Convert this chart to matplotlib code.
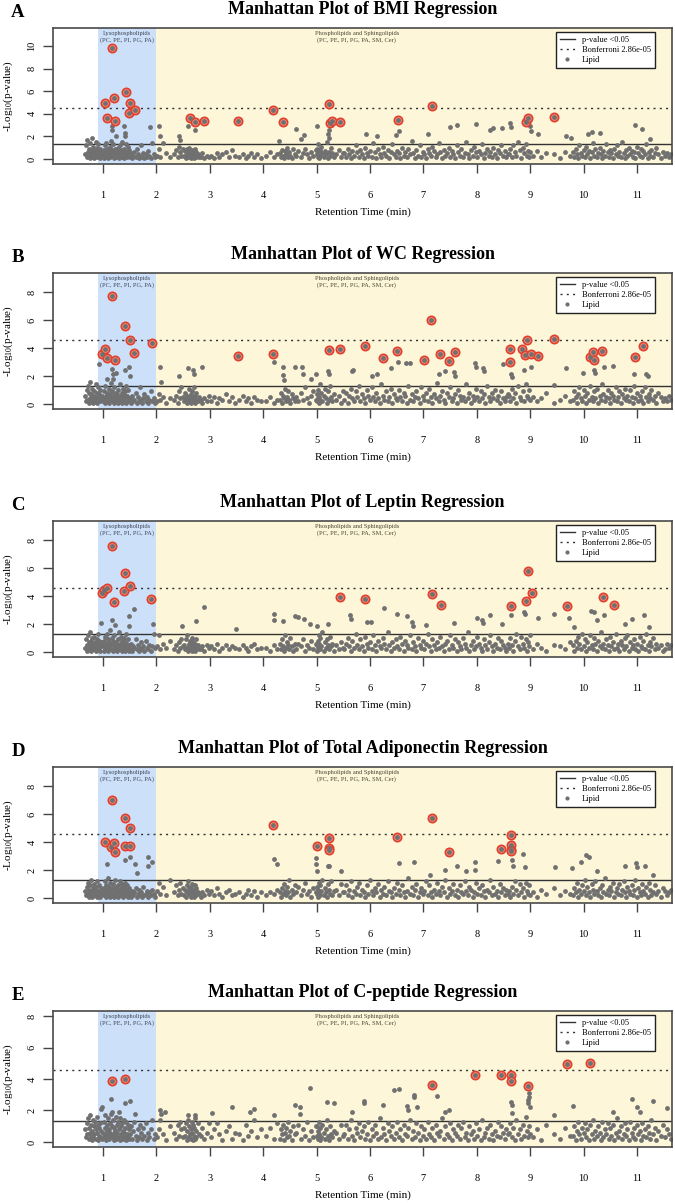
import matplotlib
matplotlib.use("Agg")
import matplotlib.pyplot as plt
import matplotlib.transforms as mtransforms
from matplotlib.lines import Line2D
import numpy as np

plt.rcParams['font.family'] = ['Liberation Serif', 'DejaVu Serif']
plt.rcParams['mathtext.fontset'] = 'custom'
plt.rcParams['mathtext.rm'] = 'Liberation Serif'
plt.rcParams['mathtext.it'] = 'Liberation Serif:italic'

# ---------------- data ----------------
# retention times of the lipids (hundredths of a minute), shared by all panels
RT = [
    66, 68, 70, 71, 72, 73, 74, 75, 76, 77, 78, 79, 80, 81, 82, 83, 84, 85, 86, 87, 88, 89, 90, 91, 92, 93, 94, 95, 96, 98,
    100, 101, 102, 103, 104, 105, 106, 107, 108, 109, 110, 111, 112, 113, 114, 115, 116, 117, 118, 119,
    120, 121, 122, 123, 124, 125, 126, 127, 128, 129, 130, 131, 132, 133, 134, 135, 136, 137, 138, 139,
    140, 141, 142, 143, 144, 145, 146, 147, 148, 149,
    151, 153, 155, 157, 159, 161, 163, 165, 167, 169, 171, 173, 175, 177, 180, 182, 185, 187, 190, 192, 195, 198,
    202, 204, 206, 212, 218, 225,
    233, 237, 240, 243, 245, 247, 249,
    251, 253, 255, 257, 258, 260, 261, 262, 263, 264, 265, 266, 267, 268, 269, 270, 271, 272, 273, 274, 275, 277, 279,
    283, 286, 290, 294, 298,
    303, 308, 313, 318, 323, 330, 336, 342, 347,
    355, 362, 367, 372, 377, 382, 388, 395,
    405, 412, 420, 426,
    431, 433, 435, 437, 439, 441, 443, 445, 447, 449, 451, 453, 456, 459,
    462, 466, 470, 474, 478, 482, 486, 490, 494, 498,
    500, 501, 502, 503, 504, 505, 506, 507, 509, 511, 513, 515, 517, 519, 521, 523, 525, 527, 529, 532,
    537, 542, 546, 549,
    552, 555, 558, 561, 564, 567, 570, 573, 576, 579, 582, 585, 588, 591, 594, 597, 600, 603, 606, 609,
    612, 615, 618, 621, 624, 627, 630, 633, 636, 639, 642, 645, 648, 651, 654, 657, 660, 663, 666, 669,
    672, 675, 678, 681, 684, 687, 690, 693, 696, 699, 702, 705, 708, 711, 714, 717, 720, 723, 726, 729,
    732, 735, 738, 741, 744, 747, 750, 753, 756, 759, 762, 765, 768, 771, 774, 777, 780, 783, 786, 789,
    792, 795, 798, 801, 804, 807, 810, 813, 816, 819, 822, 825, 828, 831, 834, 837, 840, 843, 846, 849,
    852, 855, 858,
    861, 863, 865, 868, 871, 874, 877, 880, 883, 886, 889, 892, 894, 896, 898, 900,
    905, 912, 920, 930, 945, 955, 965, 975,
    980, 982, 985, 987, 990, 992, 995, 997, 1000, 1002, 1005, 1007, 1010, 1012, 1015, 1017, 1020, 1022, 1025, 1027,
    1030, 1032, 1035, 1037, 1040, 1042, 1045, 1047, 1050, 1052, 1055, 1057, 1060, 1062, 1065, 1067, 1070, 1072, 1075, 1077,
    1080, 1082, 1085, 1087, 1090, 1092, 1095, 1097, 1100, 1102, 1105, 1107, 1110, 1112, 1115, 1117, 1120, 1122, 1125, 1127,
    1130, 1133, 1136, 1140, 1144, 1148,
    1152, 1156, 1160, 1164,
]

# background -log10(p) per panel (tenths), aligned with RT
BG_BMI = [
    4, 12, 2, 17, 6, 3, 9, 1, 14, 5, 2, 8, 19, 3, 11, 6, 1, 7, 15, 4, 2, 10, 5, 13, 3, 7, 1, 9, 4, 6,
    3, 8, 1, 12, 5, 2, 14, 6, 9, 3, 1, 7, 4, 11, 2, 16, 5, 8, 3, 13, 6, 1, 9, 4, 20, 2, 7, 5, 10, 3,
    1, 6, 12, 4, 8, 2, 15, 5, 3, 9, 1, 7, 4, 13, 6, 2, 11, 3, 5, 8,
    2, 5, 1, 3, 6, 2, 9, 4, 1, 3, 12, 2, 5, 1, 4, 2, 7, 3, 1, 14, 4, 2,
    3, 9, 2, 14, 5, 2,
    4, 8, 2, 11, 6, 3, 9,
    3, 7, 1, 9, 4, 2, 6, 10, 3, 5, 1, 8, 2, 4, 7, 1, 5, 3, 9, 2, 6, 4, 2,
    2, 5, 1, 3, 2,
    3, 1, 5, 2, 4, 6, 2, 8, 3,
    2, 4, 1, 3, 5, 2, 4, 1,
    3, 6, 2, 4,
    5, 2, 8, 3, 1, 7, 4, 10, 2, 6, 3, 1, 9, 4,
    3, 7, 2, 5, 9, 4, 1, 6, 3, 8,
    4, 9, 2, 13, 6, 1, 8, 3, 11, 5, 2, 7, 4, 15, 1, 6, 3, 10, 5, 2,
    4, 8, 2, 5,
    5, 2, 9, 4, 1, 7, 3, 12, 6, 2, 8, 4, 1, 10, 5, 3, 7, 2, 14, 6,
    1, 9, 4, 2, 11, 5, 3, 8, 1, 6, 13, 4, 2, 7, 5, 1, 10, 3, 6, 2,
    9, 4, 16, 5, 1, 8, 3, 12, 2, 6, 4, 1, 9, 5, 3, 11, 7, 2, 4, 14,
    6, 1, 8, 3, 5, 10, 2, 7, 4, 1, 12, 6, 3, 9, 2, 5, 15, 4, 1, 8,
    3, 11, 6, 2, 7, 4, 13, 1, 5, 9, 3, 6, 2, 10, 4, 1, 8, 5, 12, 3,
    7, 2, 4,
    4, 9, 2, 12, 6, 3, 15, 8, 1, 10, 5, 13, 3, 7, 2, 6,
    3, 7, 2, 5, 4, 1, 6, 3,
    6, 2, 9, 4, 1, 12, 5, 3, 8, 2, 11, 4, 7, 1, 6, 14, 3, 9, 2, 5,
    10, 4, 1, 7, 3, 13, 6, 2, 8, 5, 1, 9, 4, 12, 3, 6, 2, 15, 5, 1,
    8, 3, 10, 4, 7, 2, 6, 1, 11, 5, 3, 9, 2, 7, 4, 13, 1, 6, 3, 8,
    2, 5, 10, 4, 1, 6,
    3, 5, 2, 4,
]
BG_WC = [
    6, 2, 10, 3, 13, 1, 8, 4, 16, 2, 7, 5, 11, 3, 1, 9, 6, 2, 14, 4, 8, 1, 12, 5, 3, 7, 2, 10, 4, 6,
    2, 9, 4, 1, 13, 6, 3, 8, 18, 2, 5, 11, 1, 7, 4, 15, 3, 9, 2, 6, 12, 1, 5, 8, 3, 22, 4, 7, 1, 10,
    5, 2, 14, 6, 3, 8, 1, 11, 4, 7, 2, 9, 5, 13, 1, 6, 3, 10, 2, 4,
    4, 1, 6, 2, 3, 8, 1, 5, 2, 12, 3, 1, 4, 7, 2, 5, 1, 3, 9, 2, 4, 1,
    2, 7, 3, 5, 1, 4,
    3, 6, 1, 9, 4, 12, 5,
    2, 8, 4, 1, 6, 3, 11, 5, 2, 7, 1, 9, 3, 5, 2, 12, 4, 1, 6, 3, 8, 2, 5,
    3, 1, 4, 2, 6,
    2, 5, 1, 4, 3, 7, 2, 5, 1,
    3, 6, 2, 4, 1, 5, 3, 2,
    2, 5, 1, 3,
    3, 8, 1, 6, 4, 11, 2, 5, 9, 3, 1, 7, 4, 2,
    5, 2, 8, 3, 12, 4, 1, 6, 9, 3,
    2, 7, 4, 10, 1, 5, 14, 3, 8, 2, 6, 11, 4, 1, 9, 3, 13, 5, 2, 7,
    3, 6, 1, 9,
    3, 8, 1, 6, 11, 4, 2, 9, 5, 13, 2, 7, 4, 1, 10, 6, 3, 12, 5, 2,
    8, 4, 1, 14, 6, 3, 9, 2, 5, 11, 1, 7, 4, 3, 10, 5, 2, 8, 6, 1,
    13, 3, 7, 2, 5, 9, 4, 1, 12, 6, 3, 8, 2, 11, 5, 1, 7, 4, 15, 2,
    6, 9, 3, 1, 8, 5, 12, 2, 4, 7, 1, 10, 6, 3, 5, 2, 14, 4, 8, 1,
    6, 3, 11, 5, 2, 9, 4, 7, 1, 13, 5, 2, 8, 4, 10, 3, 6, 1, 9, 4,
    2, 5, 7,
    6, 2, 11, 4, 8, 1, 13, 5, 3, 9, 2, 14, 6, 4, 10, 3,
    5, 2, 4, 8, 1, 3, 6, 2,
    3, 9, 5, 1, 7, 12, 4, 2, 10, 6, 1, 8, 3, 13, 5, 2, 9, 4, 11, 1,
    6, 3, 14, 7, 2, 5, 10, 4, 1, 8, 6, 3, 12, 2, 5, 9, 1, 7, 4, 11,
    3, 6, 2, 10, 5, 1, 13, 4, 8, 2, 6, 3, 9, 1, 12, 5, 2, 7, 4, 10,
    3, 6, 1, 8, 5, 2,
    4, 2, 6, 3,
]
BG_LEP = [
    3, 9, 5, 1, 12, 7, 2, 14, 4, 8, 1, 6, 10, 3, 5, 2, 11, 7, 4, 1, 9, 6, 3, 13, 2, 8, 5, 1, 7, 4,
    5, 1, 8, 3, 11, 6, 2, 13, 4, 9, 1, 7, 3, 16, 5, 2, 10, 6, 1, 8, 4, 12, 3, 19, 2, 7, 5, 1, 9, 4,
    14, 2, 6, 3, 11, 1, 8, 5, 2, 10, 4, 7, 1, 13, 3, 6, 2, 9, 5, 1,
    2, 6, 1, 4, 3, 9, 2, 5, 1, 3, 7, 2, 4, 1, 8, 3, 2, 5, 1, 4, 13, 3,
    4, 12, 2, 6, 3, 8,
    2, 5, 1, 7, 3, 9, 4,
    5, 2, 9, 3, 12, 1, 6, 4, 8, 2, 5, 1, 10, 3, 7, 2, 4, 6, 1, 9, 3, 5, 2,
    2, 4, 1, 5, 3,
    4, 2, 6, 1, 3, 5, 2, 4, 3,
    2, 5, 3, 1, 4, 6, 2, 3,
    3, 1, 5, 2,
    6, 2, 9, 4, 1, 12, 3, 7, 5, 2, 10, 4, 1, 6,
    2, 6, 4, 9, 1, 5, 3, 8, 2, 6,
    5, 1, 8, 3, 12, 6, 2, 10, 4, 14, 1, 7, 3, 9, 5, 2, 11, 4, 6, 1,
    5, 2, 7, 3,
    2, 6, 10, 4, 1, 8, 3, 13, 5, 2, 9, 4, 1, 11, 6, 3, 7, 2, 12, 5,
    1, 8, 4, 3, 10, 6, 2, 14, 5, 1, 7, 3, 9, 4, 2, 11, 6, 1, 8, 5,
    3, 12, 2, 7, 4, 1, 10, 5, 3, 8, 2, 6, 13, 4, 1, 9, 5, 2, 7, 3,
    11, 4, 1, 6, 8, 2, 12, 5, 3, 9, 1, 7, 4, 2, 10, 6, 3, 14, 1, 5,
    8, 2, 4, 11, 6, 3, 1, 9, 5, 2, 7, 12, 4, 1, 6, 3, 10, 2, 8, 5,
    3, 1, 6,
    3, 10, 5, 1, 8, 13, 4, 2, 11, 6, 3, 9, 1, 7, 4, 12,
    2, 6, 3, 1, 5, 4, 2, 7,
    5, 1, 8, 3, 11, 6, 2, 13, 4, 9, 1, 7, 3, 12, 5, 2, 10, 6, 1, 8,
    4, 14, 3, 6, 2, 9, 5, 1, 11, 4, 7, 2, 13, 3, 6, 1, 8, 5, 2, 10,
    4, 12, 1, 7, 3, 5, 9, 2, 6, 1, 11, 4, 3, 8, 2, 13, 5, 1, 7, 4,
    10, 2, 6, 3, 5, 1,
    2, 6, 3, 5,
]
BG_ADIPO = [
    5, 2, 8, 3, 11, 1, 6, 4, 9, 2, 13, 5, 1, 7, 3, 10, 4, 2, 8, 6, 1, 12, 3, 5, 2, 9, 4, 1, 7, 3,
    4, 7, 2, 12, 5, 1, 9, 3, 6, 14, 2, 8, 4, 1, 11, 5, 3, 7, 2, 10, 6, 1, 13, 4, 8, 2, 5, 3, 9, 1,
    6, 12, 4, 2, 7, 3, 10, 5, 1, 8, 4, 2, 11, 6, 3, 9, 1, 5, 7, 2,
    3, 1, 5, 2, 4, 7, 1, 3, 6, 2, 4, 1, 8, 2, 3, 5, 1, 4, 2, 6, 3, 1,
    5, 11, 3, 8, 2, 13,
    4, 9, 2, 6, 11, 3, 7,
    2, 6, 1, 9, 4, 12, 3, 7, 5, 1, 8, 2, 10, 4, 6, 3, 1, 9, 5, 2, 7, 4, 3,
    1, 4, 2, 6, 3,
    5, 2, 7, 3, 1, 4, 6, 2, 3,
    4, 1, 3, 6, 2, 5, 1, 4,
    2, 4, 3, 6,
    4, 1, 7, 3, 10, 5, 2, 8, 4, 13, 1, 6, 3, 9,
    4, 8, 2, 6, 11, 3, 5, 1, 7, 4,
    3, 8, 1, 6, 11, 4, 2, 9, 5, 13, 2, 7, 4, 1, 10, 6, 3, 12, 2, 5,
    6, 2, 10, 4,
    4, 9, 2, 6, 12, 1, 5, 3, 8, 11, 2, 6, 4, 1, 9, 3, 13, 5, 2, 7,
    4, 10, 1, 6, 3, 8, 2, 12, 5, 4, 1, 7, 3, 11, 6, 2, 9, 4, 1, 5,
    14, 3, 8, 2, 6, 10, 1, 4, 7, 3, 5, 12, 2, 9, 4, 1, 6, 3, 11, 5,
    2, 8, 4, 13, 1, 7, 3, 5, 10, 2, 6, 1, 9, 4, 3, 12, 5, 2, 8, 6,
    1, 4, 11, 3, 7, 2, 9, 5, 1, 6, 4, 13, 2, 8, 3, 5, 1, 10, 4, 7,
    2, 6, 3,
    5, 1, 8, 3, 12, 6, 2, 10, 4, 7, 1, 11, 5, 3, 9, 2,
    4, 1, 6, 3, 7, 2, 5, 3,
    2, 7, 4, 11, 1, 6, 3, 9, 5, 13, 2, 8, 4, 1, 10, 6, 3, 12, 5, 2,
    7, 1, 9, 4, 14, 3, 6, 2, 8, 5, 11, 1, 4, 7, 3, 10, 2, 6, 12, 4,
    1, 8, 5, 3, 9, 2, 6, 13, 1, 7, 4, 2, 10, 5, 3, 8, 1, 11, 6, 2,
    4, 9, 3, 5, 1, 7,
    5, 2, 4, 6,
]
BG_CPEP = [
    8, 3, 12, 5, 15, 2, 9, 6, 17, 4, 11, 1, 7, 14, 3, 10, 5, 13, 2, 8, 16, 6, 1, 11, 4, 9, 3, 12, 7, 2,
    6, 13, 3, 9, 17, 5, 1, 11, 7, 15, 4, 8, 2, 12, 6, 18, 3, 10, 5, 14, 1, 9, 7, 4, 16, 2, 11, 6, 13, 3,
    8, 1, 15, 5, 10, 4, 12, 2, 7, 14, 6, 3, 9, 1, 13, 5, 11, 4, 8, 2,
    5, 10, 2, 7, 13, 4, 1, 8, 3, 11, 6, 2, 9, 4, 12, 1, 6, 3, 8, 14, 2, 5,
    3, 8, 14, 5, 1, 10,
    6, 2, 11, 4, 13, 8, 3,
    9, 4, 12, 1, 7, 14, 3, 10, 5, 2, 8, 13, 6, 1, 11, 4, 9, 2, 15, 7, 3, 12, 5,
    4, 9, 2, 6, 12,
    3, 8, 12, 5, 1, 7, 10, 2, 6,
    5, 1, 11, 4, 7, 14, 3, 8,
    4, 9, 2, 12,
    2, 8, 5, 11, 1, 6, 9, 3, 13, 4, 7, 1, 10, 5,
    6, 11, 2, 8, 4, 13, 1, 7, 3, 10,
    4, 10, 2, 7, 13, 5, 1, 9, 3, 11, 6, 2, 8, 14, 4, 1, 10, 5, 3, 7,
    6, 2, 11, 4,
    5, 11, 2, 8, 14, 4, 1, 9, 6, 12, 3, 7, 10, 2, 5, 13, 1, 8, 4, 11,
    6, 2, 15, 3, 9, 5, 1, 12, 7, 4, 10, 2, 6, 13, 3, 8, 1, 11, 5, 4,
    9, 14, 2, 7, 3, 12, 6, 1, 10, 4, 8, 2, 13, 5, 3, 9, 1, 11, 6, 4,
    7, 15, 2, 10, 5, 3, 12, 1, 8, 6, 4, 11, 2, 9, 13, 3, 6, 1, 10, 5,
    7, 2, 12, 4, 8, 1, 14, 3, 6, 9, 2, 11, 5, 1, 7, 4, 13, 3, 10, 6,
    2, 8, 5,
    6, 12, 3, 9, 1, 14, 5, 8, 2, 11, 4, 16, 7, 3, 10, 5,
    3, 8, 1, 11, 5, 2, 9, 4,
    4, 10, 1, 7, 13, 5, 2, 9, 6, 12, 3, 8, 1, 11, 5, 14, 2, 7, 4, 10,
    6, 1, 13, 3, 8, 5, 12, 2, 9, 4, 11, 1, 6, 15, 3, 7, 10, 2, 5, 12,
    4, 8, 1, 13, 6, 3, 9, 2, 11, 5, 7, 1, 12, 4, 8, 3, 10, 6, 2, 14,
    5, 9, 1, 7, 4, 11,
    3, 8, 5, 2,
]

# higher (not significant) lipids per panel
HI_RT_BMI = [1.16, 1.17, 1.40, 1.41, 1.42, 1.88, 2.05, 2.06, 2.43, 2.44, 2.60, 2.72, 4.30, 4.62, 4.70,
             4.76, 5.00, 5.22, 5.23, 5.24, 5.92, 6.13, 6.48, 6.55, 7.09, 7.49, 7.62, 7.99, 8.25, 8.31,
             8.47, 8.63, 8.64, 9.00, 9.02, 9.15, 9.67, 9.77, 10.08, 10.15, 10.30, 10.97, 11.10, 11.25]
HI_Y_BMI = [2.9, 2.6, 2.9, 2.3, 2.0, 2.85, 2.9, 2.0, 2.0, 1.7, 2.95, 2.6, 1.6, 2.7, 1.8,
            2.1, 2.9, 2.2, 2.55, 1.9, 2.2, 2.0, 2.1, 2.5, 2.25, 2.8, 3.0, 3.1, 2.6, 2.75,
            2.75, 3.2, 2.85, 2.9, 2.5, 2.2, 2.0, 1.9, 2.2, 2.4, 2.3, 3.0, 2.7, 1.8]
HI_RT_WC = [0.93, 1.17, 1.18, 1.19, 1.42, 1.49, 1.50, 2.07, 2.08, 2.43, 2.60, 2.69, 2.70, 2.85, 4.20,
            4.37, 4.38, 4.39, 4.60, 4.73, 4.74, 4.90, 4.98, 5.22, 5.23, 5.66, 5.68, 6.04, 6.13, 6.40,
            6.53, 6.68, 6.75, 7.30, 7.40, 7.58, 7.60, 7.97, 7.98, 8.12, 8.13, 8.49, 8.64, 8.65, 8.89,
            9.02, 9.45, 9.67, 9.99, 10.20, 10.22, 10.38, 10.55, 10.94, 11.16, 11.20]
HI_Y_WC = [2.86, 2.5, 2.14, 1.8, 2.4, 2.62, 2.0, 2.62, 1.55, 2.0, 2.55, 2.43, 2.14, 2.67, 2.98,
           2.67, 2.07, 1.74, 2.67, 2.62, 2.14, 1.8, 2.14, 2.38, 2.14, 2.38, 2.45, 2.0, 2.14, 2.6,
           2.98, 2.93, 2.93, 2.14, 2.33, 2.26, 2.0, 2.9, 2.67, 2.55, 2.38, 2.86, 2.14, 1.9, 2.45,
           2.62, 1.38, 2.55, 2.2, 2.4, 2.2, 2.62, 2.69, 2.14, 2.14, 1.98]
HI_RT_LEP = [0.97, 1.17, 1.48, 1.49, 1.58, 1.93, 2.48, 2.74, 2.89, 3.50, 4.20, 4.21, 4.37, 4.60, 4.66,
             4.76, 4.88, 5.00, 5.22, 5.62, 5.64, 5.95, 6.02, 6.26, 6.50, 6.69, 6.78, 6.80, 7.05, 7.58,
             8.00, 8.09, 8.12, 8.25, 8.47, 8.64, 8.89, 8.90, 9.15, 9.45, 9.73, 9.82, 10.13, 10.19, 10.25,
             10.38, 10.78, 10.90, 11.13, 11.22]
HI_Y_LEP = [2.1, 2.27, 2.6, 1.84, 3.1, 2.0, 1.84, 2.22, 3.22, 1.67, 2.74, 2.31, 2.22, 2.55, 2.5,
            2.39, 2.0, 1.84, 2.0, 2.67, 2.39, 2.15, 2.15, 3.15, 2.74, 2.55, 2.15, 1.84, 1.9, 2.07,
            2.46, 2.3, 2.07, 2.62, 2.0, 2.62, 2.86, 2.7, 2.46, 2.7, 2.43, 1.8, 2.94, 2.86, 2.3,
            2.62, 2.0, 2.39, 2.62, 1.8]
HI_RT_ADIPO = [1.08, 1.42, 1.50, 1.60, 1.63, 1.84, 1.85, 1.92, 4.20, 4.25, 4.98, 4.99, 5.00, 5.22, 5.24,
               5.45, 6.54, 6.82, 7.12, 7.40, 7.62, 7.80, 7.96, 7.97, 8.40, 8.66, 8.67, 8.87, 8.90, 9.47,
               9.78, 9.96, 10.05, 10.11, 10.25, 10.78, 10.98, 11.00, 11.15, 11.30]
HI_Y_ADIPO = [2.45, 2.7, 2.95, 2.45, 1.75, 2.9, 2.3, 2.55, 2.75, 2.4, 2.85, 2.4, 1.9, 2.26, 2.3,
              1.9, 2.5, 2.55, 1.66, 2.0, 2.3, 1.9, 2.56, 1.97, 2.66, 2.73, 2.3, 3.16, 2.2, 2.2,
              2.14, 2.56, 3.04, 2.92, 1.9, 2.3, 2.5, 2.2, 2.26, 1.66]
HI_RT_CPEP = [0.97, 0.99, 1.15, 1.17, 1.30, 1.42, 1.50, 1.60, 2.07, 2.09, 2.17, 2.60, 2.72, 3.05, 3.42,
              3.76, 3.82, 4.20, 4.60, 4.68, 4.69, 4.87, 5.20, 5.32, 5.66, 5.88, 5.89, 6.25, 6.45, 6.54,
              6.69, 6.72, 6.82, 6.83, 6.88, 7.26, 7.40, 7.47, 8.64, 8.65, 8.66, 8.97, 8.98, 8.96, 8.95,
              8.99, 9.45, 9.80, 10.55, 10.91, 11.00, 11.05, 11.30, 11.57]
HI_Y_CPEP = [2.1, 2.2, 2.76, 1.92, 1.9, 2.45, 2.6, 1.8, 2.0, 1.75, 1.92, 1.7, 1.7, 1.85, 2.2,
             1.9, 2.07, 1.7, 2.38, 2.24, 1.75, 3.46, 2.53, 2.49, 1.9, 2.6, 2.5, 2.34, 3.29, 3.38,
             2.3, 2.05, 2.97, 2.83, 2.2, 2.9, 1.9, 2.05, 2.55, 2.34, 1.86, 3.08, 2.83, 2.66, 2.45,
             2.24, 1.7, 2.3, 1.9, 2.7, 2.24, 1.9, 2.62, 2.17]

# significant lipids (circled in red) per panel
SIG_RT_BMI = [1.03, 1.08, 1.175, 1.21, 1.23, 1.43, 1.49, 1.51, 1.60, 2.63, 2.72, 2.89, 3.52, 4.18, 4.37,
              5.24, 5.26, 5.28, 5.43, 6.52, 7.17, 8.93, 8.96, 9.45]
SIG_Y_BMI = [4.95, 3.6, 9.85, 5.4, 3.35, 5.9, 4.1, 4.95, 4.35, 3.65, 3.3, 3.35, 3.35, 4.3, 3.3,
             4.85, 3.2, 3.35, 3.3, 3.5, 4.7, 3.3, 3.65, 3.7]
SIG_RT_WC = [0.98, 1.04, 1.08, 1.17, 1.22, 1.42, 1.51, 1.59, 1.91, 3.53, 4.19, 5.24, 5.43, 5.90, 6.25,
             6.50, 7.02, 7.15, 7.32, 7.47, 7.60, 8.62, 8.63, 8.85, 8.90, 8.94, 9.02, 9.15, 9.44, 10.12,
             10.18, 10.19, 10.35, 10.96, 11.12]
SIG_Y_WC = [3.57, 3.95, 3.26, 7.74, 3.14, 5.55, 4.57, 3.64, 4.38, 3.4, 3.57, 3.83, 3.9, 4.12, 3.26,
            3.76, 3.17, 6.02, 3.6, 3.05, 3.74, 3.9, 3.02, 3.93, 3.52, 4.57, 3.57, 3.4, 4.67, 3.36,
            3.74, 3.17, 3.81, 3.36, 4.14]
SIG_RT_LEP = [0.98, 1.02, 1.07, 1.17, 1.21, 1.40, 1.42, 1.51, 1.90, 5.43, 5.91, 7.17, 7.33, 8.64, 8.92,
              8.96, 9.04, 9.69, 10.37, 10.56]
SIG_Y_LEP = [4.22, 4.42, 4.6, 7.59, 3.6, 4.34, 5.66, 4.75, 3.77, 3.9, 3.77, 4.15, 3.34, 3.29, 3.65,
             5.82, 4.22, 3.32, 3.96, 3.37]
SIG_RT_ADIPO = [1.03, 1.15, 1.17, 1.21, 1.22, 1.42, 1.42, 1.50, 1.51, 4.19, 5.00, 5.23, 5.23, 5.24, 6.51,
                7.17, 7.48, 8.45, 8.64, 8.64, 8.64, 8.64]
SIG_Y_ADIPO = [4.01, 3.63, 6.98, 3.94, 3.25, 5.68, 3.7, 3.68, 4.99, 5.25, 3.73, 3.56, 3.44, 4.28, 4.37,
               5.75, 3.25, 3.49, 4.47, 3.8, 3.44, 3.33]
SIG_RT_CPEP = [1.17, 1.42, 7.17, 7.97, 8.46, 8.64, 8.64, 8.96, 9.69, 10.12]
SIG_Y_CPEP = [3.86, 3.97, 3.61, 4.28, 4.24, 4.24, 3.88, 3.57, 4.98, 5.02]

LETTERS = ['A', 'B', 'C', 'D', 'E']
TITLES = ['Manhattan Plot of BMI Regression',
          'Manhattan Plot of WC Regression',
          'Manhattan Plot of Leptin Regression',
          'Manhattan Plot of Total Adiponectin Regression',
          'Manhattan Plot of C-peptide Regression']
YMAX = [11.17, 9.0, 9.0, 9.0, 8.0]
YTICKS = [[0, 2, 4, 6, 8, 10], [0, 2, 4, 6, 8], [0, 2, 4, 6, 8], [0, 2, 4, 6, 8], [0, 2, 4, 6, 8]]
XTICKS = list(range(1, 12))
P_THRESH = 0.05
BONFERRONI = 2.86e-05
LEGEND_LABELS = ['p-value <0.05', 'Bonferroni 2.86e-05', 'Lipid']

BG = [BG_BMI, BG_WC, BG_LEP, BG_ADIPO, BG_CPEP]
HI = [(HI_RT_BMI, HI_Y_BMI), (HI_RT_WC, HI_Y_WC), (HI_RT_LEP, HI_Y_LEP),
      (HI_RT_ADIPO, HI_Y_ADIPO), (HI_RT_CPEP, HI_Y_CPEP)]
SIG = [(SIG_RT_BMI, SIG_Y_BMI), (SIG_RT_WC, SIG_Y_WC), (SIG_RT_LEP, SIG_Y_LEP),
       (SIG_RT_ADIPO, SIG_Y_ADIPO), (SIG_RT_CPEP, SIG_Y_CPEP)]

# ---------------- figure ----------------
W, H = 675, 1203
fig = plt.figure(figsize=(W / 100, H / 100), dpi=100)

AX_LEFT, AX_RIGHT = 53, 672
AX_TOPS = [28, 273, 521, 767, 1011]
AX_H = 136

GREY = '#707070'
BLUE = '#cde0fa'
YELLOW = '#fdf6d9'
FRAME = '#4a4a4a'
DOT_S = 12

rt = np.array(RT) / 100.0

for i in range(5):
    top = AX_TOPS[i]
    ax = fig.add_axes([AX_LEFT / W, 1 - (top + AX_H) / H, (AX_RIGHT - AX_LEFT) / W, AX_H / H])
    ymax = YMAX[i]
    pad = 0.04 * ymax
    ax.set_ylim(-pad, ymax + pad)
    ax.set_xlim(0.064, 11.655)

    ax.axvspan(0.9, 2.0, color=BLUE, lw=0, zorder=0)
    ax.axvspan(2.0, 12.5, color=YELLOW, lw=0, zorder=0)

    ax.axhline(-np.log10(P_THRESH), color='#333333', lw=1.0, zorder=1)
    ax.axhline(-np.log10(BONFERRONI), color='#333333', lw=1.0, ls=(0, (1.5, 3)), zorder=1)

    bg = np.array(BG[i]) / 10.0
    assert len(bg) == len(rt), (i, len(bg), len(rt))
    ax.scatter(rt, bg, s=DOT_S, color=GREY, lw=0, zorder=2)
    hx, hy = HI[i]
    ax.scatter(hx, hy, s=DOT_S, color=GREY, lw=0, zorder=2)
    sx, sy = SIG[i]
    ax.scatter(sx, sy, s=36, facecolor='#ee8a7a', edgecolor='#e0402c', lw=1.2, zorder=3)
    ax.scatter(sx, sy, s=DOT_S, color=GREY, lw=0, zorder=4)

    ax.set_xticks(XTICKS)
    ax.set_yticks(YTICKS[i])
    ax.tick_params(axis='x', length=6.5, width=1.0, color='#444444', pad=13, labelsize=7.5)
    ax.tick_params(axis='y', length=7, width=1.0, color='#444444', pad=5, labelsize=7.5)
    for lab in ax.get_yticklabels():
        lab.set_rotation(90)
        lab.set_verticalalignment('center')
    for sp in ax.spines.values():
        sp.set_color(FRAME)
        sp.set_linewidth(1.2)
        sp.set_zorder(6)

    trans = mtransforms.blended_transform_factory(ax.transData, ax.transAxes)
    ax.text(1.45, 0.975, 'Lysophospholipids\n(PC, PE, PI, PG, PA)', transform=trans,
            ha='center', va='top', fontsize=4.6, color='#3d4654', linespacing=1.25)
    ax.text(5.75, 0.975, 'Phospholipids and Sphingolipids\n(PC, PE, PI, PG, PA, SM, Cer)',
            transform=trans, ha='center', va='top', fontsize=4.6, color='#4a4634', linespacing=1.25)

    ax.text(0.5, -48 / AX_H, 'Retention Time (min)', transform=ax.transAxes,
            ha='center', va='center', fontsize=8)
    ax.text((8 - AX_LEFT) / (AX_RIGHT - AX_LEFT), 0.5, r'-Log$_{10}$(p-value)',
            transform=ax.transAxes, ha='center', va='center', rotation=90, fontsize=8)

    handles = [Line2D([], [], color='#333333', lw=1.0),
               Line2D([], [], color='#333333', lw=1.0, ls=(0, (1.5, 3))),
               Line2D([], [], color=GREY, lw=0, marker='o', markersize=3, markeredgewidth=0)]
    leg = ax.legend(handles, LEGEND_LABELS, loc='upper right',
                    bbox_to_anchor=(1 - 17 / (AX_RIGHT - AX_LEFT), 1 - 4 / AX_H),
                    borderaxespad=0, fontsize=6, frameon=True, fancybox=False,
                    edgecolor='#222222', framealpha=1, borderpad=0.45,
                    handlelength=1.8, handletextpad=0.9, labelspacing=0.25)
    leg.get_frame().set_linewidth(1.0)
    leg.set_zorder(7)

    cx = (AX_LEFT + AX_RIGHT) / 2 / W
    fig.text(cx, 1 - (top - 18.5) / H, TITLES[i], ha='center', va='center',
             fontsize=13, fontweight='bold')
    fig.text(18 / W, 1 - (top - 15.5) / H, LETTERS[i], ha='center', va='center',
             fontsize=13.5, fontweight='bold')

fig.savefig('out.png', dpi=100)
